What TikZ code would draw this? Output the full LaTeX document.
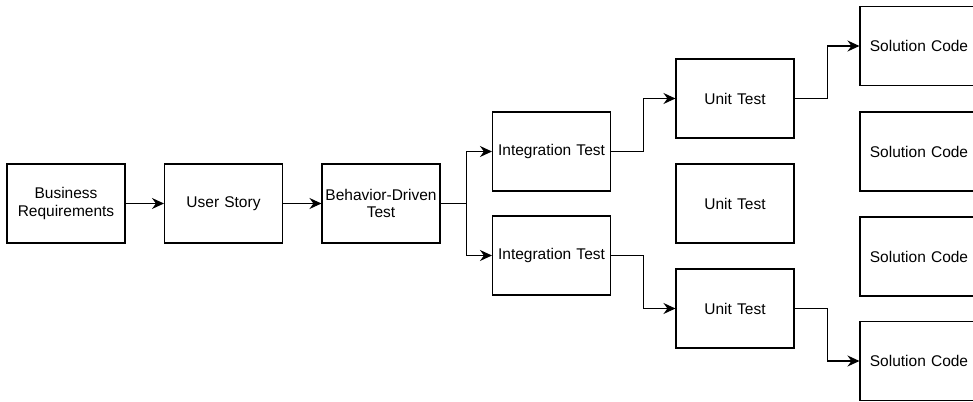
\documentclass[tikz,border=0pt]{standalone}
\usepackage{fontspec}
\setmainfont{Liberation Sans}
\usetikzlibrary{arrows.meta}
\begin{document}
\begin{tikzpicture}[x=1pt,y=-1pt,
  box/.style={draw, line width=1.1pt, minimum width=118pt, minimum height=79pt, inner sep=0pt, align=center, text width=116pt, font=\fontsize{15.5}{17.5}\selectfont},
  conn/.style={line width=1.1pt, -{Stealth[length=12pt,width=11pt,inset=4pt]}}]
\useasboundingbox (0,0) rectangle (973,401);
\node[box] (br)  at (66,203.5)   {Business\\Requirements};
\node[box] (us)  at (223.5,203.5) {User Story};
\node[box] (bdt) at (381,203.5)  {Behavior-Driven\\Test};
\node[box] (it1) at (551.5,151.5) {Integration Test};
\node[box] (it2) at (551.5,255.5) {Integration Test};
\node[box] (ut1) at (735,98.5)   {Unit Test};
\node[box] (ut2) at (735,203.5)  {Unit Test};
\node[box] (ut3) at (735,308.5)  {Unit Test};
\node[box] (sc1) at (919,46)     {Solution Code};
\node[box] (sc2) at (919,151.5)  {Solution Code};
\node[box] (sc3) at (919,256.5)  {Solution Code};
\node[box] (sc4) at (919,361)    {Solution Code};
\draw[conn] (br.east) -- (us.west);
\draw[conn] (us.east) -- (bdt.west);
\draw[conn] (bdt.east) -- ([xshift=26pt]bdt.east) |- (it1.west);
\draw[conn] (bdt.east) -- ([xshift=26pt]bdt.east) |- (it2.west);
\draw[conn] (it1.east) -- ([xshift=32pt]it1.east) |- (ut1.west);
\draw[conn] (it2.east) -- ([xshift=32pt]it2.east) |- (ut3.west);
\draw[conn] (ut1.east) -- ([xshift=33pt]ut1.east) |- (sc1.west);
\draw[conn] (ut3.east) -- ([xshift=33pt]ut3.east) |- (sc4.west);
\end{tikzpicture}
\end{document}
